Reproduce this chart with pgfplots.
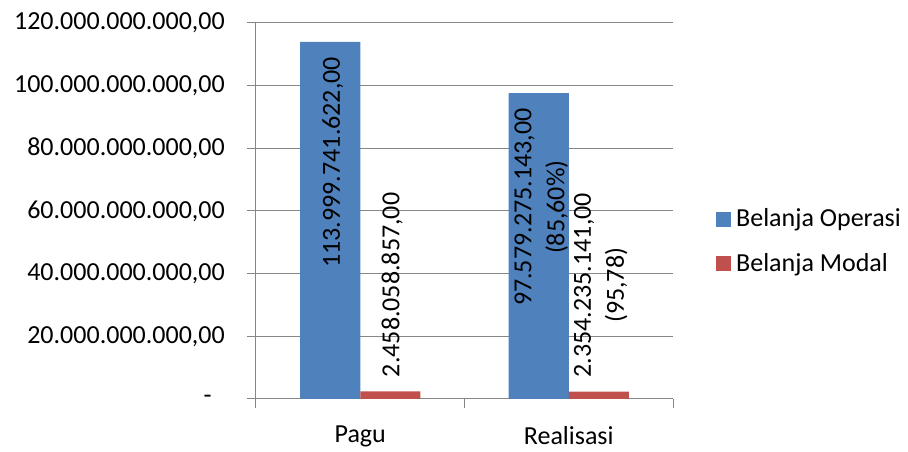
\documentclass[border=0pt]{standalone}
\usepackage{fontspec}
\setmainfont{Carlito}
\usepackage{pgfplots}
\pgfplotsset{compat=1.18}
\definecolor{opblue}{RGB}{79,129,189}
\definecolor{modred}{RGB}{192,80,77}
\definecolor{gridgray}{RGB}{134,134,134}
\begin{document}
\begin{tikzpicture}[font=\fontsize{26pt}{33pt}\selectfont]
\useasboundingbox (0,0) rectangle (908pt,452pt);
\begin{axis}[
  at={(256pt,53pt)}, anchor=south west,
  width=417pt, height=376pt, scale only axis,
  xmin=-0.5, xmax=1.5, ymin=0, ymax=120000000000,
  ybar=0pt, bar width=0.288,
  axis x line*=bottom, axis y line*=left,
  axis line style={gridgray, line width=1pt},
  ymajorgrids, grid style={gridgray, line width=1pt},
  tick align=outside, major tick length=9pt,
  tick style={gridgray, line width=1pt},
  xtick={-0.5,0.5,1.5}, xticklabels={,,},
  extra x ticks={0,1}, extra x tick labels={Pagu,Realisasi},
  extra x tick style={major tick length=0pt},
  ytick={0,20000000000,40000000000,60000000000,80000000000,100000000000,120000000000},
  yticklabels={{-\hphantom{0}},{20.000.000.000,00},{40.000.000.000,00},{60.000.000.000,00},{80.000.000.000,00},{100.000.000.000,00},{120.000.000.000,00}},
  scaled y ticks=false,
  yticklabel style={anchor=east, inner sep=0pt, xshift=-22pt},
  xticklabel style={anchor=north, inner sep=0pt, yshift=-27pt},
  clip=false,
  legend style={draw=none, fill=none, at={(1.1031,0.4215)}, anchor=west, inner sep=0pt, row sep=25pt, column sep=5pt, nodes={inner sep=0pt, anchor=base west}},
  legend cell align=left,
]
\addplot[fill=opblue, draw=none, nodes near coords, point meta=explicit symbolic,
  nodes near coords style={xshift=2.5pt, rotate=90, anchor=east, inner xsep=15pt, inner ysep=0pt, align=center, text=black},
  legend image code/.code={\path[fill=opblue] (0pt,0pt) rectangle (15pt,15pt);}]
  coordinates {(0,113999741622) [113.999.741.622,00] (1,97579275143) [97.579.275.143,00\\(85,60\%)]};
\addplot[fill=modred, draw=none, nodes near coords, point meta=explicit symbolic,
  nodes near coords style={xshift=2pt, rotate=90, anchor=west, inner xsep=14pt, inner ysep=0pt, align=center, text=black},
  legend image code/.code={\path[fill=modred] (0pt,0pt) rectangle (15pt,15pt);}]
  coordinates {(0,2458058857) [2.458.058.857,00] (1,2354235141) [2.354.235.141,00\\(95,78)]};
\legend{Belanja Operasi, Belanja Modal}
\end{axis}
\end{tikzpicture}
\end{document}
